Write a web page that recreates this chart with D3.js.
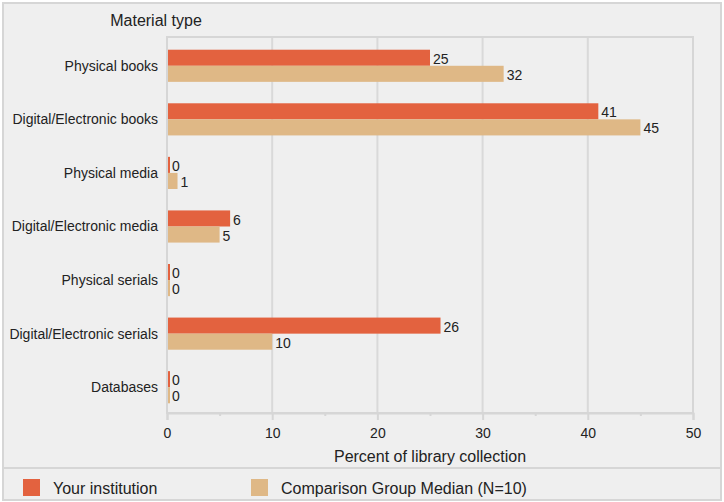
<!DOCTYPE html>
<html><head><meta charset="utf-8">
<script src="https://cdn.jsdelivr.net/npm/d3@7"></script>
<style>body{margin:0;background:#fff;}svg{display:block;font-family:"Liberation Sans",Arial,sans-serif;}</style>
</head><body><svg id="c" width="724" height="502"></svg>
<script>
const categories = ["Physical books","Digital/Electronic books","Physical media","Digital/Electronic media","Physical serials","Digital/Electronic serials","Databases"];
const yourInstitution = [25,41,0,6,0,26,0];
const comparisonMedian = [32,45,1,5,0,10,0];
const seriesNames = ["Your institution","Comparison Group Median (N=10)"];
const seriesColors = ["#e3623f","#dfb886"];
const xTicks = [0,10,20,30,40,50];

(function(){
const svg = d3.select("#c");
svg.append("rect").attr("x",3).attr("y",3).attr("width",718).attr("height",497)
  .attr("fill","#efefef").attr("stroke","#d6d6d6").attr("stroke-width",2);

const pL=167,pR=693,pT=37,pB=413;
const x = d3.scaleLinear().domain([0,50]).range([pL,pR]);
const y = d3.scaleBand().domain(categories).range([pT+2,pB+1]).paddingInner(0.4).paddingOuter(0.2);
const sub = d3.scaleBand().domain([0,1]).range([0,y.bandwidth()]);

svg.append("g").selectAll("line").data(xTicks.filter(d=>d>0&&d<50)).join("line")
  .attr("x1",d=>x(d)).attr("x2",d=>x(d)).attr("y1",pT).attr("y2",pB)
  .attr("stroke","#d9d9d9").attr("stroke-width",2);
svg.append("rect").attr("x",pL).attr("y",pT).attr("width",pR-pL).attr("height",pB-pT)
  .attr("fill","none").attr("stroke","#d6d6d6").attr("stroke-width",2);

const ax = svg.append("g").attr("transform",`translate(0,${pB})`)
  .call(d3.axisBottom(x).tickValues(d3.range(0,51,5)).tickSize(7).tickFormat(d=>d%10===0?d:""));
ax.select(".domain").attr("stroke","#d6d6d6").attr("stroke-width",2);
ax.selectAll(".tick line").attr("stroke","#d6d6d6").attr("stroke-width",2)
  .attr("y2",d=>d%10===0?7:3);
ax.selectAll(".tick text").attr("font-size",14).attr("fill","#222").attr("y",21).attr("dy","0.32em");

svg.append("text").attr("x",(pL+pR)/2).attr("y",456).attr("dy","0.35em").attr("text-anchor","middle")
  .attr("font-size",16).attr("fill","#222").text("Percent of library collection");
svg.append("text").attr("x",156).attr("y",20).attr("dy","0.35em").attr("text-anchor","middle")
  .attr("font-size",16).attr("fill","#222").text("Material type");

svg.append("g").selectAll("text").data(categories).join("text")
  .attr("x",158).attr("y",d=>y(d)+y.bandwidth()/2).attr("dy","0.35em")
  .attr("text-anchor","end").attr("font-size",14).attr("fill","#222").text(d=>d);

const series=[yourInstitution,comparisonMedian];
series.forEach((vals,si)=>{
  const g=svg.append("g");
  g.selectAll("rect").data(vals).join("rect")
    .attr("x",x(0)+1).attr("y",(d,i)=>y(categories[i])+sub(si))
    .attr("width",d=>Math.max(x(d)-x(0)-1,2)).attr("height",sub.bandwidth())
    .attr("fill",seriesColors[si]);
  g.selectAll("text").data(vals).join("text")
    .attr("x",d=>Math.max(x(d),x(0)+2)+3).attr("y",(d,i)=>y(categories[i])+sub(si)+sub.bandwidth()/2+1)
    .attr("dy","0.36em").attr("font-size",14).attr("fill","#222").text(d=>d);
});

svg.append("line").attr("x1",3).attr("x2",721).attr("y1",468).attr("y2",468).attr("stroke","#d6d6d6").attr("stroke-width",2);
const lx=[23,251];
seriesNames.forEach((n,i)=>{
  svg.append("rect").attr("x",lx[i]).attr("y",479).attr("width",17).attr("height",17).attr("fill",seriesColors[i]);
  svg.append("text").attr("x",lx[i]+30).attr("y",488).attr("dy","0.35em").attr("font-size",16).attr("fill","#222").text(n);
});
})();
</script></body></html>
